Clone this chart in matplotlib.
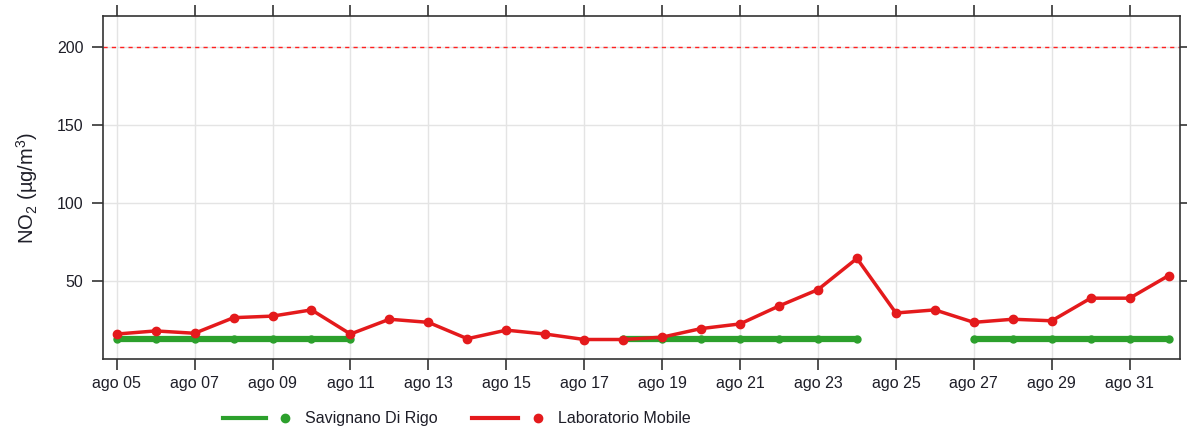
import numpy as np
import pandas as pd
import matplotlib
matplotlib.use("Agg")
import matplotlib.pyplot as plt
from matplotlib.lines import Line2D

plt.rcParams['font.family'] = ['Liberation Sans', 'DejaVu Sans']
plt.rcParams['mathtext.fontset'] = 'custom'
plt.rcParams['mathtext.rm'] = 'Liberation Sans'
plt.rcParams['mathtext.it'] = 'Liberation Sans'

# daily values, 5 Aug -> 1 Sep
dates = pd.date_range("2023-08-05", "2023-09-01", freq="D")
lab_mobile = [16, 18, 16.5, 26.5, 27.5, 31.5, 16, 25.5, 23.5, 13,
              18.5, 16, 12.5, 12.5, 14, 19.5, 22.5, 34, 44.5, 64.5,
              29.5, 31.5, 23.5, 25.5, 24.5, 39, 39, 53.5]
savignano = [13, 13, 13, 13, 13, 13, 13, None, None, None,
             None, None, None, 13, 13, 13, 13, 13, 13, 13,
             None, None, 13, 13, 13, 13, 13, 13]
limit = 200

tick_dates = pd.date_range("2023-08-05", "2023-08-31", freq="2D")
tick_labels = ["ago %02d" % d.day for d in tick_dates]

red = '#e41a1c'
green = '#2ca02c'
dark = '#333333'
txt = '#1e1e28'

fig = plt.figure(figsize=(11.87, 4.32), dpi=100)
ax = fig.add_axes([0.0868, 0.169, 0.9073, 0.794])

sav = np.array([np.nan if v is None else v for v in savignano], dtype=float)
ax.plot(dates, sav, color=green, lw=4.5, marker='o', ms=5, zorder=3,
        solid_capstyle='round')
ax.plot(dates, lab_mobile, color=red, lw=2.5, marker='o', ms=6, zorder=4)
ax.axhline(limit, color='#ff2020', lw=1, ls=(0, (3, 3)), zorder=2)

ax.set_xlim(dates[0] - pd.Timedelta(hours=8.4), dates[-1] + pd.Timedelta(hours=7))
ax.set_ylim(0, 220)
ax.set_yticks([50, 100, 150, 200])
ax.set_xticks(tick_dates)
ax.set_xticklabels(tick_labels)

ax.grid(True, color='#e4e4e4', lw=1, zorder=0)
ax.set_axisbelow(True)
for s in ax.spines.values():
    s.set_color(dark)
    s.set_linewidth(1.2)
ax.tick_params(axis='both', direction='out', length=8, width=1.2, color=dark,
               labelsize=11.5, labelcolor=txt, top=True, right=True, pad=4)
ax.tick_params(axis='y', pad=6)

ax.set_ylabel(r'NO$_2$ (µg/m$^3$)', fontsize=14.5, color=txt, labelpad=12)

# legend below the plot
y_leg = 0.032
fig.add_artist(Line2D([0.188, 0.224], [y_leg, y_leg], color=green, lw=3,
                      transform=fig.transFigure))
fig.add_artist(Line2D([0.240], [y_leg], color=green, marker='o', ms=6,
                      transform=fig.transFigure))
fig.text(0.257, y_leg, 'Savignano Di Rigo', fontsize=11.5, va='center', color=txt)
fig.add_artist(Line2D([0.398, 0.436], [y_leg, y_leg], color=red, lw=3,
                      transform=fig.transFigure))
fig.add_artist(Line2D([0.453], [y_leg], color=red, marker='o', ms=6,
                      transform=fig.transFigure))
fig.text(0.470, y_leg, 'Laboratorio Mobile', fontsize=11.5, va='center', color=txt)

fig.savefig('out.png', dpi=100)
